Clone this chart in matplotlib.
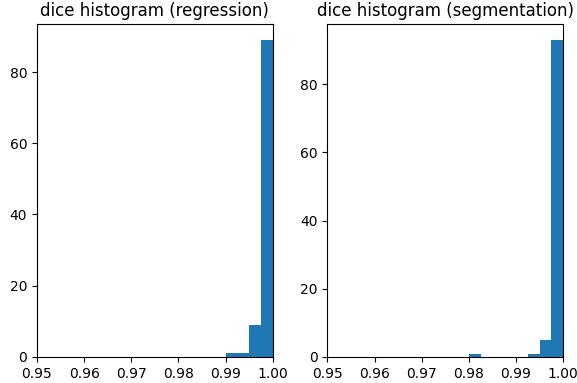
import numpy as np
import matplotlib
matplotlib.use("Agg")
import matplotlib.pyplot as plt

# histogram bin edges (0.95 .. 1.00, 20 bins) and counts
edges = np.linspace(0.95, 1.0, 21)
reg_counts = [0, 0, 0, 0, 0, 0, 0, 0, 0, 0, 0, 0, 0, 0, 0, 0, 1, 1, 9, 89]
seg_counts = [0, 0, 0, 0, 0, 0, 0, 0, 0, 0, 0, 0, 1, 0, 0, 0, 0, 1, 5, 93]
titles = ["dice histogram (regression)", "dice histogram (segmentation)"]

centers = (edges[:-1] + edges[1:]) / 2

fig, axes = plt.subplots(1, 2, figsize=(5.77, 3.83), dpi=100)
for ax, counts, title in zip(axes, [reg_counts, seg_counts], titles):
    ax.hist(centers, bins=edges, weights=counts)
    ax.set_xlim(0.95, 1.0)
    ax.set_xticks([0.95, 0.96, 0.97, 0.98, 0.99, 1.00])
    ax.set_title(title)

fig.subplots_adjust(left=0.064, right=0.976, bottom=0.068, top=0.937, wspace=0.232)
fig.savefig("out.png")
